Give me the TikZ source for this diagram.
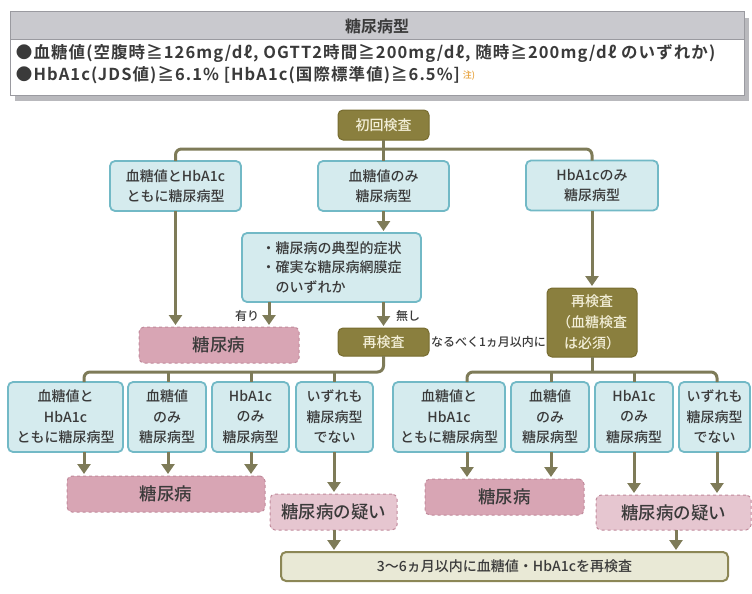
\documentclass[tikz,border=0pt]{standalone}
\usepackage{fontspec}
\setmainfont{Noto Sans CJK JP Medium}[BoldFont={Noto Sans CJK JP Bold}]
\usetikzlibrary{arrows.meta,calc}
\definecolor{cText}{HTML}{3A3A3A}
\definecolor{cLine}{HTML}{7E7B58}
\definecolor{cOlive}{HTML}{8A7F3E}
\definecolor{cOliveD}{HTML}{776C30}
\definecolor{cCream}{HTML}{F3EFD8}
\definecolor{cBlue}{HTML}{D5EBEE}
\definecolor{cBlueD}{HTML}{72B9C6}
\definecolor{cPink}{HTML}{D8A5B4}
\definecolor{cPinkL}{HTML}{E6C6D0}
\definecolor{cPinkD}{HTML}{C08A9B}
\definecolor{cKhaki}{HTML}{E9E9D6}
\definecolor{cKhakiD}{HTML}{8C8756}
\definecolor{cHead}{HTML}{C9C9CE}
\definecolor{cShadow}{HTML}{B9B9BD}
\definecolor{cFrame}{HTML}{9A9AA0}
\definecolor{cNote}{HTML}{E8A23C}
\begin{document}
\begin{tikzpicture}[x=1pt,y=-1pt,
  every node/.style={inner sep=0pt, outer sep=0pt, text=cText},
  bluebox/.style={draw=cBlueD, fill=cBlue, line width=1.8pt, rounded corners=5pt,
    align=center, font=\fontsize{14}{20.5}\selectfont},
  olivebox/.style={draw=cOliveD, fill=cOlive, line width=1pt, rounded corners=5pt,
    align=center, text=cCream, font=\fontsize{14}{21}\selectfont},
  dmbox/.style={draw=cPinkD, fill=cPink, dashed, line width=1pt, rounded corners=5pt,
    font=\fontsize{17.5}{20}\selectfont},
  susbox/.style={dmbox, fill=cPinkL},
  lbl/.style={font=\fontsize{12}{14}\selectfont},
  crit/.style={anchor=west, font=\bfseries\fontsize{16.5}{18}\selectfont\addfontfeature{LetterSpace=6.5}},
  ln/.style={draw=cLine, line width=3pt},
  arr/.style={ln, -{Triangle[width=13pt,length=10pt]}, shorten >=2pt}
]
\useasboundingbox (0,0) rectangle (752,594);

% ---- top definition box ----
\fill[cShadow] (15,18) rectangle (749,101);
\draw[cFrame, line width=1pt, fill=white] (10,12) rectangle (744,95);
\draw[cFrame, line width=1pt, fill=cHead] (10,12) rectangle (744,40);
\node[font=\bfseries\fontsize{16}{18}\selectfont] (title) at (377,26) {糖尿病型};
\node[crit] (crit1) at (16,53)
  {●血糖値(空腹時≧126mg/dℓ, OGTT2時間≧200mg/dℓ, 随時≧200mg/dℓ のいずれか)};
\node[crit] (crit2) at (16,75)
  {●HbA1c(JDS値)≧6.1\% [HbA1c(国際標準値)≧6.5\%]};
\node[anchor=south west, text=cNote, font=\fontsize{9}{10}\selectfont] (note) at ([xshift=3pt,yshift=3pt]crit2.south east) {注)};

% ---- first level ----
\node[olivebox, minimum width=91, minimum height=30] (start) at (383.5,125) {初回検査};
\node[bluebox, minimum width=131, minimum height=50] (b1) at (175.5,186) {血糖値とHbA1c\\ともに糖尿病型};
\node[bluebox, minimum width=131, minimum height=50] (b2) at (383.5,186) {血糖値のみ\\糖尿病型};
\node[bluebox, minimum width=132, minimum height=50] (b3) at (592,185.5) {HbA1cのみ\\糖尿病型};

\coordinate (busA) at (0,149);
\draw[ln, rounded corners=6pt] (b1.north) -- (b1.north |- busA) -- (b3.north |- busA) -- (b3.north);
\draw[ln] (start.south) -- (b2.north);

\node[bluebox, minimum width=179, minimum height=69, align=left,
  font=\fontsize{14}{19.5}\selectfont] (sym) at (331.5,267.5)
  {・糖尿病の典型的症状\\・確実な糖尿病網膜症\\\phantom{・}のいずれか};

\node[dmbox, minimum width=160, minimum height=36] (dm1) at (219,345) {糖尿病};
\node[olivebox, minimum width=91, minimum height=28] (re1) at (383.5,342) {再検査};
\node[olivebox, minimum width=90, minimum height=69] (re2) at (592,322.5) {再検査\\（血糖検査\\は必須）};
\node[lbl] (soon) at (488.5,342) {なるべく1ヵ月以内に};

\coordinate (xa) at (269,0);
\draw[arr] (b1.south) -- (b1.south |- dm1.north);
\draw[arr] (b2.south) -- (b2.south |- sym.north);
\draw[arr] (xa |- sym.south) -- (xa |- dm1.north);
\draw[arr] (re1.north |- sym.south) -- (re1.north);
\draw[arr] (b3.south) -- (re2.north);
\node[lbl] (yes) at (247,316) {有り};
\node[lbl] (no) at (408,316) {無し};

% ---- second level, left ----
\coordinate (busB) at (0,372);
\node[bluebox, minimum width=115, minimum height=70] (L1) at (65.5,417) {血糖値と\\HbA1c\\ともに糖尿病型};
\node[bluebox, minimum width=78, minimum height=70] (L2) at (167,417) {血糖値\\のみ\\糖尿病型};
\node[bluebox, minimum width=77, minimum height=70] (L3) at (250.5,417) {HbA1c\\のみ\\糖尿病型};
\node[bluebox, minimum width=77, minimum height=70] (L4) at (334.5,417) {いずれも\\糖尿病型\\でない};
\coordinate (l1) at (84,0);
\coordinate (l2) at (168,0);
\coordinate (l3) at (251,0);
\coordinate (l4) at (334,0);
\draw[ln, rounded corners=6pt] (re1.south) -- (re1.south |- busB) -- (l1 |- busB) -- (l1 |- L1.north);
\draw[ln] (l2 |- busB) -- (l2 |- L2.north);
\draw[ln] (l3 |- busB) -- (l3 |- L3.north);
\draw[ln] (l4 |- busB) -- (l4 |- L4.north);

\node[dmbox, minimum width=198, minimum height=36] (dm2) at (166,494) {糖尿病};
\node[susbox, minimum width=127, minimum height=36] (sus1) at (333.5,512) {糖尿病の疑い};
\draw[arr] (l1 |- L1.south) -- (l1 |- dm2.north);
\draw[arr] (l2 |- L2.south) -- (l2 |- dm2.north);
\draw[arr] (l3 |- L3.south) -- (l3 |- dm2.north);
\draw[arr] (l4 |- L4.south) -- (l4 |- sus1.north);

% ---- second level, right ----
\node[bluebox, minimum width=112, minimum height=70] (R1) at (449,417) {血糖値と\\HbA1c\\ともに糖尿病型};
\node[bluebox, minimum width=78, minimum height=70] (R2) at (550,417) {血糖値\\のみ\\糖尿病型};
\node[bluebox, minimum width=78, minimum height=70] (R3) at (634,417) {HbA1c\\のみ\\糖尿病型};
\node[bluebox, minimum width=71, minimum height=70] (R4) at (714.5,417) {いずれも\\糖尿病型\\でない};
\coordinate (r1) at (467,0);
\coordinate (r2) at (551,0);
\coordinate (r3) at (634,0);
\coordinate (r4) at (717,0);
\draw[ln] (re2.south) -- (re2.south |- busB);
\draw[ln, rounded corners=6pt] (r1 |- R1.north) -- (r1 |- busB) -- (r4 |- busB) -- (r4 |- R4.north);
\draw[ln] (r2 |- busB) -- (r2 |- R2.north);
\draw[ln] (r3 |- busB) -- (r3 |- R3.north);

\node[dmbox, minimum width=159, minimum height=36] (dm3) at (504.5,497) {糖尿病};
\node[susbox, minimum width=155, minimum height=35] (sus2) at (673.5,512.5) {糖尿病の疑い};
\draw[arr] (r1 |- R1.south) -- (r1 |- dm3.north);
\draw[arr] (r2 |- R2.south) -- (r2 |- dm3.north);
\draw[arr] (r3 |- R3.south) -- (r3 |- sus2.north);
\draw[arr] (r4 |- R4.south) -- (r4 |- sus2.north);

% ---- final ----
\node[draw=cKhakiD, fill=cKhaki, line width=2pt, rounded corners=5pt,
  minimum width=447, minimum height=29, font=\fontsize{14}{16}\selectfont] (final) at (504.5,566.5)
  {3〜6ヵ月以内に血糖値・HbA1cを再検査};
\coordinate (f1) at (334,0);
\coordinate (f2) at (676,0);
\draw[arr] (f1 |- sus1.south) -- (f1 |- final.north);
\draw[arr] (f2 |- sus2.south) -- (f2 |- final.north);
\end{tikzpicture}
\end{document}
